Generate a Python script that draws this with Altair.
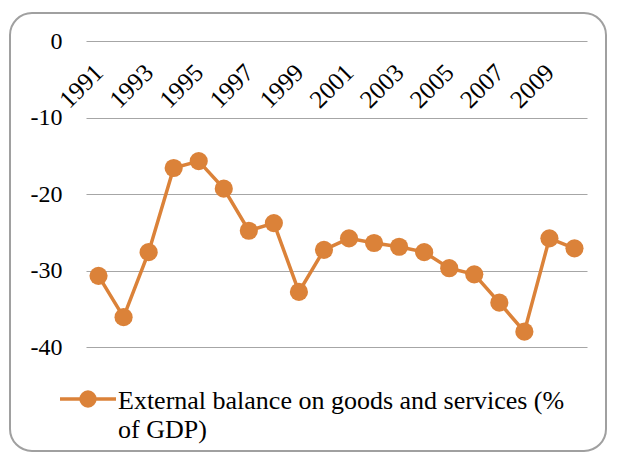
import altair as alt
import pandas as pd

years = list(range(1991, 2011))
values = [-30.7, -36.1, -27.6, -16.6, -15.7, -19.3, -24.8, -23.8, -32.8, -27.3,
          -25.8, -26.4, -26.9, -27.6, -29.7, -30.5, -34.2, -38.0, -25.8, -27.1]
y_ticks = [0, -10, -20, -30, -40]
x_label_years = [1991, 1993, 1995, 1997, 1999, 2001, 2003, 2005, 2007, 2009]
legend_lines = ["External balance on goods and services (%", "of GDP)"]

ORANGE = "#DB8239"
GRID = "#A6A6A6"
FONT = "Liberation Serif, Times New Roman, serif"
W, H = 501, 306

df = pd.DataFrame({"Year": years, "Value": values})

x = alt.X("Year:O",
          scale=alt.Scale(padding=0.5),
          axis=alt.Axis(orient="bottom", offset=-H, values=x_label_years,
                        labelAngle=-45, labelAlign="right", labelBaseline="middle",
                        labelPadding=27, ticks=False, domain=False, grid=False,
                        title=None, labelFont=FONT, labelFontSize=25,
                        labelColor="black"))
y = alt.Y("Value:Q",
          scale=alt.Scale(domain=[-40, 0], nice=False, zero=False),
          axis=alt.Axis(values=y_ticks, grid=True, gridColor=GRID, gridWidth=1.2,
                        domain=False, ticks=False, labelPadding=24, title=None,
                        labelExpr="toString(datum.value)",
                        labelFont=FONT, labelFontSize=24, labelColor="black"))

base = alt.Chart(df)
line = base.mark_line(color=ORANGE, strokeWidth=3.5).encode(x=x, y=y)
pts = base.mark_point(filled=True, color=ORANGE, opacity=1, size=330).encode(x=x, y=y)

one = alt.Chart(pd.DataFrame({"k": [0]}))
border = one.mark_rect(fill=None, stroke="#A0A0A0", strokeWidth=2, cornerRadius=22).encode(
    x=alt.value(-76), x2=alt.value(520), y=alt.value(-28), y2=alt.value(410))
leg_rule = one.mark_rule(color=ORANGE, strokeWidth=3.5).encode(
    x=alt.value(-26), x2=alt.value(30), y=alt.value(358))
leg_pt = one.mark_point(filled=True, color=ORANGE, opacity=1, size=300).encode(
    x=alt.value(2), y=alt.value(358))
leg_txt = one.mark_text(
    align="left", baseline="alphabetic", font=FONT, fontSize=26, color="black",
    lineBreak="\n", lineHeight=29
).encode(x=alt.value(32), y=alt.value(368), text=alt.value("\n".join(legend_lines)))

chart = alt.layer(border, line, pts, leg_rule, leg_pt, leg_txt).properties(
    width=W, height=H,
    autosize=alt.AutoSizeParams(type="none"),
    padding={"left": 78, "top": 33, "right": 22, "bottom": 105},
).configure_view(stroke=None)

chart.save("out.html", embed_options={"renderer": "svg", "actions": False})
